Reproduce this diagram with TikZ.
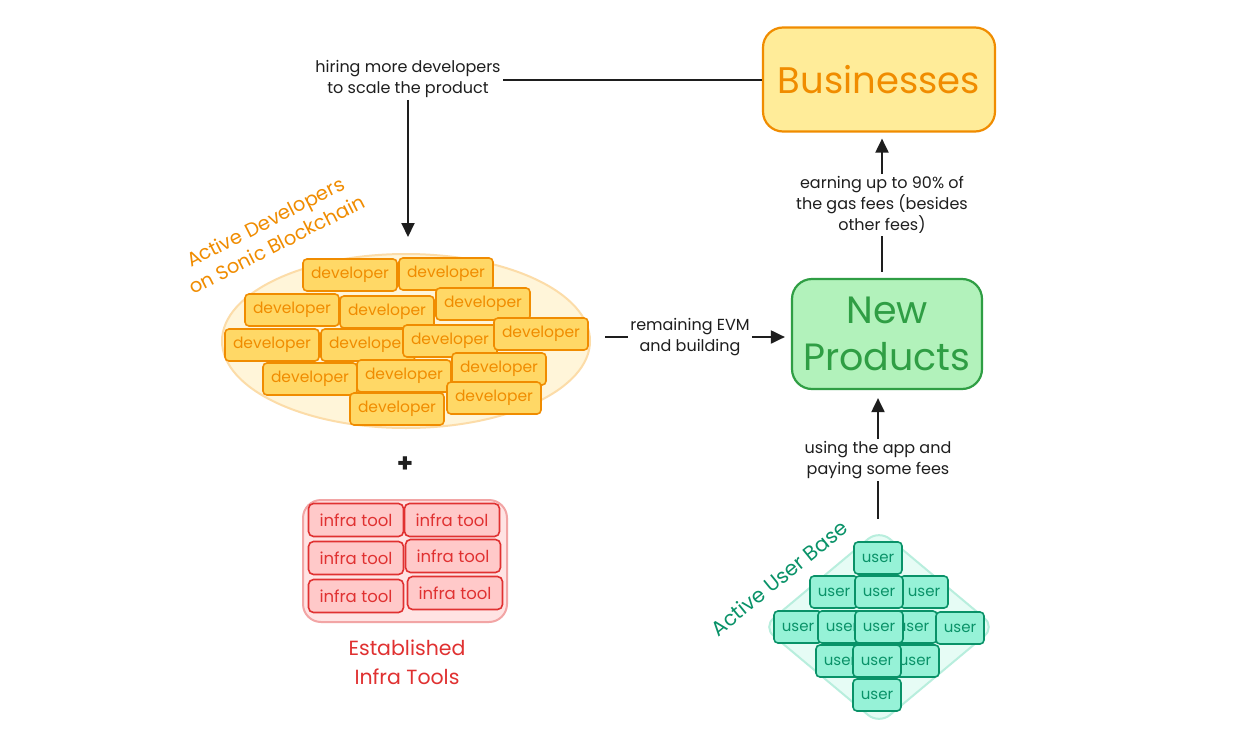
\documentclass[tikz,border=0pt]{standalone}
\usepackage{fontspec}
\setmainfont{Poppins}
\usetikzlibrary{shapes.geometric,arrows.meta}
\definecolor{ink}{HTML}{1E1E1E}
\definecolor{orng}{HTML}{F08C00}
\definecolor{busfill}{HTML}{FFEC99}
\definecolor{devfill}{HTML}{FFD866}
\definecolor{ellfill}{HTML}{FFF5D9}
\definecolor{ellstroke}{HTML}{FCDCA8}
\definecolor{grn}{HTML}{2F9E44}
\definecolor{npfill}{HTML}{B2F2BB}
\definecolor{redd}{HTML}{E03131}
\definecolor{infrafill}{HTML}{FFC9C9}
\definecolor{infraout}{HTML}{FFE3E3}
\definecolor{infraoutstroke}{HTML}{F2A5A5}
\definecolor{teal}{HTML}{099268}
\definecolor{userfill}{HTML}{96F2D7}
\definecolor{diafill}{HTML}{E6FCF5}
\definecolor{diastroke}{HTML}{B8EEDD}
\tikzset{
  devbox/.style={draw=orng, fill=devfill, line width=1.6pt, rounded corners=4pt, minimum width=94pt, minimum height=32pt, text=orng, font=\fontsize{15.5}{18}\selectfont, inner sep=0pt},
  infrabox/.style={draw=redd, fill=infrafill, line width=1.6pt, rounded corners=5pt, minimum width=95pt, minimum height=33pt, text=redd, font=\fontsize{16.5}{18}\selectfont, inner sep=0pt},
  userbox/.style={draw=teal, fill=userfill, line width=1.6pt, rounded corners=4pt, minimum width=48pt, minimum height=32pt, text=teal, font=\fontsize{15}{17}\selectfont, inner sep=0pt},
  lab/.style={text=ink, align=center, font=\fontsize{16}{21}\selectfont, inner sep=2pt},
  conn/.style={draw=ink, line width=2pt},
  arr/.style={conn, -{Triangle[length=14pt,width=13pt]}},
}
\begin{document}
\begin{tikzpicture}[x=1pt,y=-1pt]
\useasboundingbox[fill=white] (0,0) rectangle (1258,744);

% Businesses
\node[draw=orng, fill=busfill, line width=2.2pt, rounded corners=20pt, minimum width=232pt, minimum height=104pt, text=orng, font=\fontsize{37}{40}\selectfont] (bus) at (879,79.5) {Businesses};

% New Products
\node[draw=grn, fill=npfill, line width=2.2pt, rounded corners=20pt, minimum width=190pt, minimum height=110pt, text=grn, font=\fontsize{38}{47}\selectfont, align=center, inner sep=0pt] (np) at (887,334) {New\\Products};

% Developer group
\node[ellipse, draw=ellstroke, fill=ellfill, line width=2pt, minimum width=368pt, minimum height=174pt] (devs) at (406,341) {};
\node[devbox] (d1) at (350,275) {developer};
\node[devbox] (d2) at (446,274) {developer};
\node[devbox] (d3) at (292,310) {developer};
\node[devbox] (d4) at (387,312) {developer};
\node[devbox] (d5) at (483,304) {developer};
\node[devbox] (d6) at (272,345) {developer};
\node[devbox] (d7) at (368,345) {developer};
\node[devbox] (d8) at (450,341) {developer};
\node[devbox] (d9) at (541,334) {developer};
\node[devbox] (d10) at (310,379) {developer};
\node[devbox] (d11) at (404,376) {developer};
\node[devbox] (d12) at (499,369) {developer};
\node[devbox] (d13) at (397,409) {developer};
\node[devbox] (d14) at (494,398) {developer};
\node[rotate=27, text=orng, align=center, font=\fontsize{19.5}{25}\selectfont] (devtitle) at (271,233) {Active Developers\\on Sonic Blockchain};

% plus
\node[text=ink, font=\bfseries\fontsize{26}{28}\selectfont] (plus) at (405,465) {+};

% Infra tools
\node[draw=infraoutstroke, fill=infraout, line width=2pt, rounded corners=18pt, minimum width=204pt, minimum height=122pt] (infra) at (405,561) {};
\node[infrabox] (i1) at (356,520) {infra tool};
\node[infrabox] (i2) at (452,520) {infra tool};
\node[infrabox] (i3) at (356,558) {infra tool};
\node[infrabox] (i4) at (453,556) {infra tool};
\node[infrabox] (i5) at (356,596) {infra tool};
\node[infrabox] (i6) at (455,593) {infra tool};
\node[text=redd, align=center, font=\fontsize{20.5}{29}\selectfont] (infratitle) at (407,662) {Established\\Infra Tools};

% User group
\node[diamond, draw=diastroke, fill=diafill, line width=2pt, rounded corners=14pt, minimum width=233pt, minimum height=195pt, inner sep=0pt] (users) at (879,627) {};
\node[userbox] (u1) at (878,558) {user};
\node[userbox] (u2) at (834,592) {user};
\node[userbox] (u3) at (924,592) {user};
\node[userbox] (u4) at (798,627) {user};
\node[userbox] (u5) at (842,627) {user};
\node[userbox] (u6) at (913,627) {user};
\node[userbox] (u7) at (960,628) {user};
\node[userbox] (u8) at (840,661) {user};
\node[userbox] (u9) at (915,661) {user};
\node[userbox] (u10) at (879,592) {user};
\node[userbox] (u11) at (879,627) {user};
\node[userbox] (u12) at (877,661) {user};
\node[userbox] (u13) at (877,695) {user};
\node[rotate=39, text=teal, font=\fontsize{20.5}{24}\selectfont] (usertitle) at (779,578) {Active User Base};

% labels
\node[lab] (l1) at (408,79) {hiring more developers\\to scale the product};
\node[lab] (l2) at (690,337) {remaining EVM\\and building};
\node[lab] (l3) at (882,205) {earning up to 90\% of\\the gas fees (besides\\other fees)};
\node[lab] (l4) at (878,460) {using the app and\\paying some fees};

% connectors
\draw[conn] (bus.west) -- (l1.east |- bus.west);
\draw[arr, shorten >=16pt] (l1.south) -- (l1.south |- devs.north);
\draw[conn, shorten <=14pt] (devs.east |- l2.west) -- (l2.west);
\draw[arr, shorten >=6pt] (l2.east) -- (np.west |- l2.east);
\draw[conn, shorten <=6pt] (l3.south |- np.north) -- (l3.south);
\draw[arr, shorten >=6pt] (l3.north) -- (l3.north |- bus.south);
\draw[conn, shorten <=10pt] (l4.south |- users.north) -- (l4.south);
\draw[arr, shorten >=8pt] (l4.north) -- (l4.north |- np.south);
\end{tikzpicture}
\end{document}
